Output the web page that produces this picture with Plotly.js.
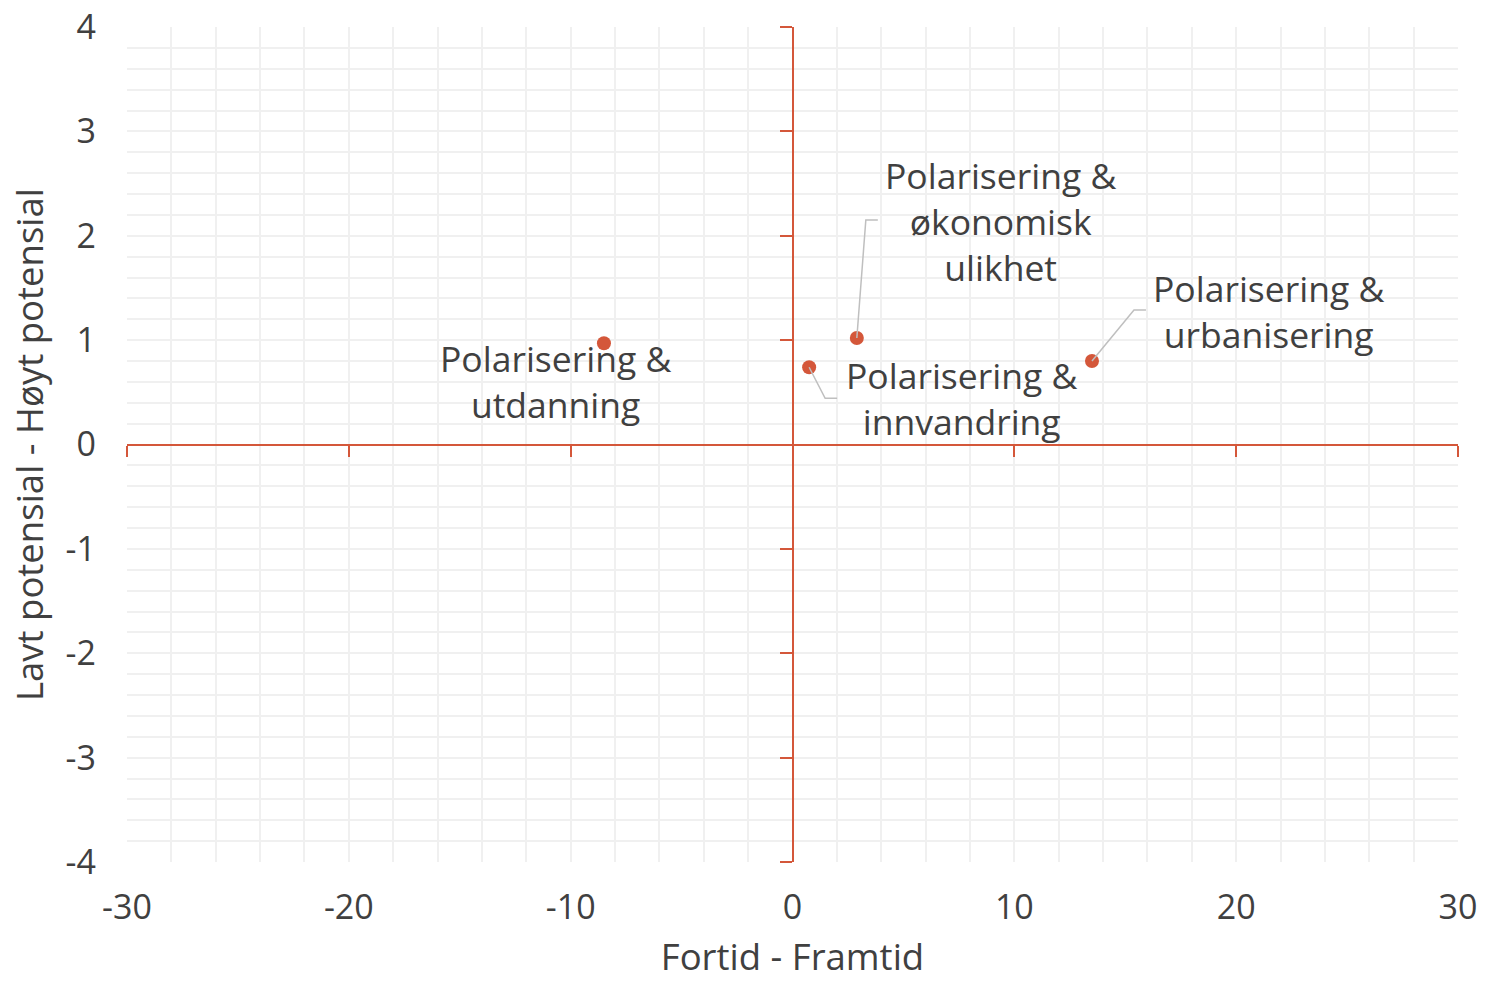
<!DOCTYPE html>
<html>
<head>
<meta charset="utf-8">
<script src="https://cdn.plot.ly/plotly-3.0.1.min.js"></script>
<style>html,body{margin:0;padding:0;background:#fff;}#chart{width:1486px;height:981px;}</style>
</head>
<body>
<div id="chart"></div>
<script>
// Data
const labels = ["Polarisering &<br>utdanning", "Polarisering &<br>økonomisk<br>ulikhet", "Polarisering &<br>innvandring", "Polarisering &<br>urbanisering"];
const fortidFramtid = [-8.5, 2.9, 0.75, 13.5];
const potensial = [0.97, 1.02, 0.74, 0.80];
const xTicks = [-30, -20, -10, 0, 10, 20, 30];
const yTicks = [-4, -3, -2, -1, 0, 1, 2, 3, 4];

// Label placement (pixel offsets from the point) and leader-line paths
const labelShift = [[-48, -38], [144, 117], [152, -31], [177, 50]];
const leaders = [null, "M0,0 L9,118 L21,118", "M0,0 L16,-31 L28,-31", "M0,0 L42,51 L54,51"];

const red = "#d4573a";
const txt = "#404040";
const font = "Open Sans, sans-serif";
const grid = "#f0f0f0";

const traces = [
  {
    type: "scatter", mode: "markers",
    x: fortidFramtid, y: potensial,
    marker: {color: red, size: 14},
    hoverinfo: "x+y", showlegend: false
  },
  {
    type: "scatter", mode: "markers", x: [null], y: [null],
    xaxis: "x2", yaxis: "y2", showlegend: false, hoverinfo: "skip"
  }
];

const annotations = labels.map((t, i) => ({
  x: fortidFramtid[i], y: potensial[i], xref: "x", yref: "y",
  text: t, showarrow: false, align: "center",
  xshift: labelShift[i][0], yshift: labelShift[i][1],
  xanchor: "center", yanchor: "middle",
  font: {family: font, size: 35.5, color: txt}
}));

const shapes = [];
leaders.forEach((p, i) => {
  if (!p) return;
  shapes.push({
    type: "path", xref: "x", yref: "y",
    xsizemode: "pixel", ysizemode: "pixel",
    xanchor: fortidFramtid[i], yanchor: potensial[i],
    path: p, line: {color: "#bfbfbf", width: 1.5}, layer: "above"
  });
});

const layout = {
  width: 1486, height: 981,
  paper_bgcolor: "#fff", plot_bgcolor: "#fff",
  margin: {l: 127, r: 28, t: 27, b: 119},
  font: {family: font, size: 34, color: txt},
  showlegend: false,
  xaxis: {
    range: [-30, 30], tickvals: xTicks, ticktext: xTicks.map(String),
    showgrid: true, gridcolor: grid, gridwidth: 2,
    minor: {dtick: 2, showgrid: true, gridcolor: grid, gridwidth: 2},
    zeroline: false, showline: false, ticks: "",
    ticklabelstandoff: 22,
    tickfont: {family: font, size: 34, color: txt},
    title: {text: "Fortid - Framtid", font: {family: font, size: 36.5, color: txt}, standoff: 18},
    fixedrange: true
  },
  yaxis: {
    range: [-4, 4], tickvals: yTicks, ticktext: yTicks.map(String),
    showgrid: true, gridcolor: grid, gridwidth: 2,
    minor: {dtick: 0.2, showgrid: true, gridcolor: grid, gridwidth: 2},
    zeroline: false, showline: false, ticks: "",
    ticklabelstandoff: 30,
    tickfont: {family: font, size: 34, color: txt},
    title: {text: "Lavt potensial - Høyt potensial", font: {family: font, size: 36.5, color: txt}, standoff: 10},
    fixedrange: true
  },
  xaxis2: {
    overlaying: "x", anchor: "free", position: 0.5, side: "bottom",
    range: [-30, 30], tickvals: xTicks, showticklabels: false,
    showgrid: false, zeroline: false,
    showline: true, linecolor: red, linewidth: 2,
    ticks: "outside", ticklen: 11, tickwidth: 2, tickcolor: red,
    fixedrange: true
  },
  yaxis2: {
    overlaying: "y", anchor: "free", position: 0.5, side: "left",
    range: [-4, 4], tickvals: yTicks, showticklabels: false,
    showgrid: false, zeroline: false,
    showline: true, linecolor: red, linewidth: 2,
    ticks: "outside", ticklen: 12, tickwidth: 2, tickcolor: red,
    fixedrange: true
  },
  annotations: annotations,
  shapes: shapes
};

Plotly.newPlot("chart", traces, layout, {displayModeBar: false, staticPlot: true});
</script>
</body>
</html>
